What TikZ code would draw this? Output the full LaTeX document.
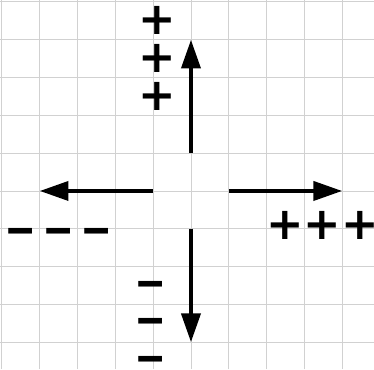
\documentclass[tikz,border=0pt]{standalone}
\usepackage{fontspec}
\usepackage{graphicx}
\setmainfont{DejaVu Sans}
\usetikzlibrary{arrows.meta}
\newcommand{\wdash}{\scalebox{1.35}[1]{–}}
\begin{document}
\begin{tikzpicture}
[node distance=1cm, >={Triangle[length=7.6mm,width=5mm]}]
\tikzstyle{field}=[line width=3pt, ->]
\tikzstyle{sign}=[inner sep=0pt, font=\fontsize{33.7}{40}\selectfont\bfseries]
\useasboundingbox (-5.05,-4.71) rectangle (4.84,5.05);
\draw[black!18, line width=0.7pt] (-5.05,-4.71) grid (4.84,5.05);

% arrow ends
\coordinate (N0) at (0,1);
\coordinate (N1) at (0,4);
\coordinate (S0) at (0,-1);
\coordinate (S1) at (0,-4);
\coordinate (E0) at (1,0);
\coordinate (E1) at (4,0);
\coordinate (W0) at (-1,0);
\coordinate (W1) at (-4,0);

\draw[field] (N0)--(N1);
\draw[field] (S0)--(S1);
\draw[field] (E0)--(E1);
\draw[field] (W0)--(W1);

% signs
\node[sign] (P1) at (-0.9,4.5) {+};
\node[sign] (P2) [below of=P1] {+};
\node[sign] (P3) [below of=P2] {+};
\node[sign] (M1) at (-1.08,-2.58) {\wdash};
\node[sign] (M2) [below of=M1] {\wdash};
\node[sign] (M3) [below of=M2] {\wdash};
\node[sign] (PE) at (3.48,-0.9) {+++};
\node[sign] (MW) at (-3.5,-1.2) {\wdash\hspace{0.2cm}\wdash\hspace{0.2cm}\wdash};
\end{tikzpicture}
\end{document}
